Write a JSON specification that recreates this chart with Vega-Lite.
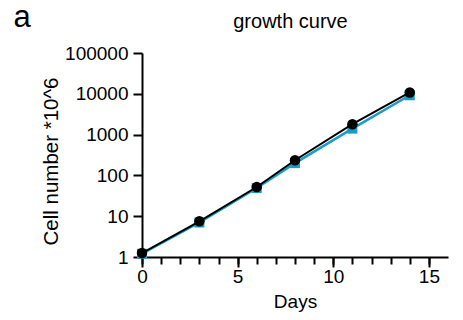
{
  "$schema": "https://vega.github.io/schema/vega-lite/v6.json",
  "autosize": "none",
  "width": 306,
  "height": 204,
  "padding": {"left": 142, "top": 53, "right": 15, "bottom": 63},
  "background": "white",
  "config": {
    "font": "Liberation Sans",
    "view": {"stroke": null},
    "axis": {"grid": false, "domainColor": "black", "domainWidth": 2, "tickColor": "black", "tickWidth": 2, "labelColor": "black", "titleColor": "black", "labelFontSize": 19, "titleFontSize": 19, "titleFontWeight": "normal", "labelFont": "Liberation Sans", "titleFont": "Liberation Sans", "labelFlush": false}
  },
  "title": {"text": "a", "anchor": "start", "frame": "bounds", "fontSize": 31, "fontWeight": "normal", "font": "Liberation Sans", "color": "black", "dx": -28, "dy": 27},
  "datasets": {
    "growth": [
      {"day": 0, "series": "B", "cells": 1.2},
      {"day": 3, "series": "B", "cells": 7},
      {"day": 6, "series": "B", "cells": 49},
      {"day": 8, "series": "B", "cells": 200},
      {"day": 11, "series": "B", "cells": 1400},
      {"day": 14, "series": "B", "cells": 9200},
      {"day": 0, "series": "A", "cells": 1.25},
      {"day": 3, "series": "A", "cells": 7.5},
      {"day": 6, "series": "A", "cells": 52},
      {"day": 8, "series": "A", "cells": 235},
      {"day": 11, "series": "A", "cells": 1800},
      {"day": 14, "series": "A", "cells": 10800}
    ]
  },
  "data": {"name": "growth"},
  "resolve": {"axis": {"x": "independent"}},
  "layer": [
    {
      "transform": [{"filter": "datum.series === 'B'"}],
      "mark": {"type": "line", "color": "#1a9cc8", "strokeWidth": 2.5},
      "encoding": {
        "x": {"field": "day", "type": "quantitative", "scale": {"domain": [0, 15]},
          "axis": {"title": "Days", "values": [0,1,2,3,4,5,6,7,8,9,10,11,12,13,14,15], "labelExpr": "datum.value % 5 === 0 ? datum.label : ''", "tickSize": 7, "labelPadding": 3, "titlePadding": 6, "labelFontSize": 19, "titleFontSize": 19}},
        "y": {"field": "cells", "type": "quantitative", "scale": {"type": "log", "domain": [1, 100000]},
          "axis": {"title": "Cell number *10^6", "values": [1, 10, 100, 1000, 10000, 100000], "format": "d", "tickSize": 9, "labelPadding": 5, "titlePadding": 3, "titleY": 108, "labelFontSize": 19, "titleFontSize": 20.5}}
      }
    },
    {
      "transform": [{"filter": "datum.series === 'B'"}],
      "mark": {"type": "square", "color": "#1a9cc8", "opacity": 1, "size": 100},
      "encoding": {
        "x": {"field": "day", "type": "quantitative",
          "axis": {"orient": "bottom", "title": null, "values": [0, 5, 10, 15], "labels": false, "domain": false, "tickSize": 10}},
        "y": {"field": "cells", "type": "quantitative"}
      }
    },
    {
      "transform": [{"filter": "datum.series === 'A'"}],
      "mark": {"type": "line", "color": "black", "strokeWidth": 2},
      "encoding": {
        "x": {"field": "day", "type": "quantitative",
          "axis": {"orient": "top", "title": "growth curve", "titleFontSize": 20, "titleX": 148, "labels": false, "ticks": false, "domain": false, "titlePadding": 22}},
        "y": {"field": "cells", "type": "quantitative"}
      }
    },
    {
      "transform": [{"filter": "datum.series === 'A'"}],
      "mark": {"type": "circle", "color": "black", "opacity": 1, "size": 110},
      "encoding": {
        "x": {"field": "day", "type": "quantitative", "axis": null},
        "y": {"field": "cells", "type": "quantitative"}
      }
    }
  ]
}
